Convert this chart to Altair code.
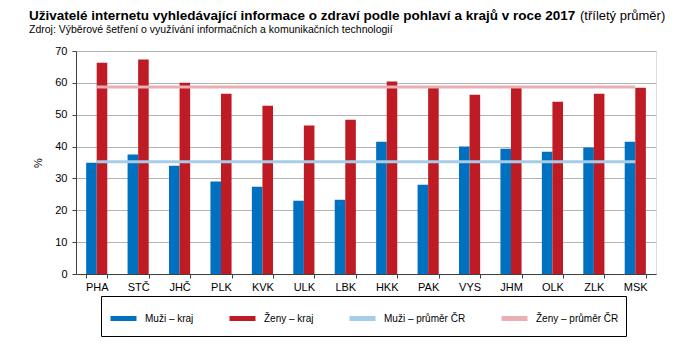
import altair as alt
import pandas as pd

regions = ["PHA", "STČ", "JHČ", "PLK", "KVK", "ULK", "LBK", "HKK", "PAK", "VYS", "JHM", "OLK", "ZLK", "MSK"]
muzi_kraj = [34.9, 37.5, 34.0, 29.0, 27.4, 23.0, 23.3, 41.5, 28.0, 40.0, 39.3, 38.4, 39.7, 41.5]
zeny_kraj = [66.3, 67.3, 60.0, 56.6, 52.8, 46.6, 48.4, 60.4, 58.5, 56.3, 58.4, 54.1, 56.6, 58.5]
muzi_cr = 35.2
zeny_cr = 58.7
series = ["Muži – kraj", "Ženy – kraj", "Muži – průměr ČR", "Ženy – průměr ČR"]
colors = ["#0070c0", "#be1b24", "#a6cde8", "#ebaeb3"]
y_ticks = [0, 10, 20, 30, 40, 50, 60, 70]

title_main = "Uživatelé internetu vyhledávající informace o zdraví  podle pohlaví a krajů v roce 2017"
title_suffix = "(tříletý průměr)"
subtitle = "Zdroj: Výběrové šetření o využívání informačních a komunikačních technologií"

n = len(regions)
bars_df = pd.DataFrame({
    "kraj": regions * 2,
    "hodnota": muzi_kraj + zeny_kraj,
    "rada": [series[0]] * n + [series[1]] * n,
})
lines_df = pd.DataFrame({
    "kraj": regions * 2,
    "hodnota": [muzi_cr] * n + [zeny_cr] * n,
    "rada": [series[2]] * n + [series[3]] * n,
})

FONT = "Liberation Sans"

x_scale = alt.Scale(paddingInner=0.49, paddingOuter=0.245)
x_axis = alt.Axis(labelAngle=0, tickBand="extent", tickSize=4, labelPadding=3,
                  labelFontSize=11, labelColor="#000000", domainColor="#404040",
                  tickColor="#404040", grid=False)
y_enc = alt.Y(
    "hodnota:Q", title="%",
    scale=alt.Scale(domain=[0, 70], nice=False),
    axis=alt.Axis(values=y_ticks, tickSize=4, labelPadding=5, labelFontSize=11,
                  labelColor="#000000", titleFontSize=11, titleFontWeight="normal",
                  titlePadding=11, titleColor="#000000", domainColor="#404040",
                  tickColor="#404040", gridColor="#b4b4b4", grid=True),
)
color_enc = alt.Color(
    "rada:N",
    scale=alt.Scale(domain=series, range=colors),
    legend=alt.Legend(
        title=None, orient="none", legendX=25, legendY=245, direction="horizontal",
        columns=4, gridAlign="none", columnPadding=25, symbolType="M-1,0H1",
        symbolStrokeWidth=5, symbolSize=676, labelFontSize=10, labelFont=FONT,
        labelColor="#000000", strokeColor="#000000", padding=7, labelOffset=6,
    ),
)

bars = alt.Chart(bars_df).mark_bar().encode(
    x=alt.X("kraj:N", sort=regions, title=None, scale=x_scale, axis=x_axis),
    xOffset=alt.XOffset("rada:N", sort=series[:2], scale=alt.Scale(paddingInner=0, paddingOuter=0)),
    y=y_enc,
    color=color_enc,
)

lines = alt.Chart(lines_df).mark_line(strokeWidth=3).encode(
    x=alt.X("kraj:N", sort=regions, title=None, scale=x_scale, axis=x_axis, bandPosition=0.5),
    y=y_enc,
    color=color_enc,
    detail="rada:N",
)

txt_main = alt.Chart(pd.DataFrame({"t": [title_main]})).mark_text(
    align="left", baseline="alphabetic", fontSize=13.5, fontWeight="bold", font=FONT, color="#000000"
).encode(text="t:N", x=alt.value(-47), y=alt.value(-31))

txt_suffix = alt.Chart(pd.DataFrame({"t": [title_suffix]})).mark_text(
    align="left", baseline="alphabetic", fontSize=13, font=FONT, color="#000000"
).encode(text="t:N", x=alt.value(504), y=alt.value(-31))

txt_sub = alt.Chart(pd.DataFrame({"t": [subtitle]})).mark_text(
    align="left", baseline="alphabetic", fontSize=10.5, font=FONT, color="#000000"
).encode(text="t:N", x=alt.value(-47), y=alt.value(-18))

chart = alt.layer(bars, lines, txt_main, txt_suffix, txt_sub).properties(
    width=580,
    height=223,
    autosize=alt.AutoSizeParams(type="none"),
    padding={"left": 76, "top": 51, "right": 31, "bottom": 83},
).configure_view(
    stroke="#000000", strokeWidth=1
).configure_axis(
    labelFont=FONT, titleFont=FONT
).configure(background="#ffffff")

chart.save("out.html", embed_options={"renderer": "svg", "actions": False})
